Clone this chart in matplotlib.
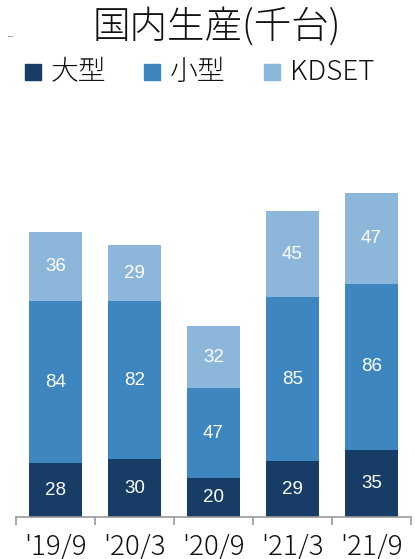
import numpy as np
import matplotlib.pyplot as plt
from matplotlib.patches import Rectangle

plt.rcParams['font.family'] = ['Noto Sans CJK JP', 'DejaVu Sans']

# data
periods = ["'19/9", "'20/3", "'20/9", "'21/3", "'21/9"]
large = [28, 30, 20, 29, 35]
small = [84, 82, 47, 85, 86]
kdset = [36, 29, 32, 45, 47]
series_names = ['大型', '小型', 'KDSET']
colors = ['#173d66', '#3e86bf', '#8cb7db']

fig = plt.figure(figsize=(4.15, 5.59), dpi=100)
ax = fig.add_axes([16 / 415, 42 / 559, 395 / 415, 417 / 559])

x = np.arange(len(periods))
bottom = np.zeros(len(periods))
for vals, col, name in zip([large, small, kdset], colors, series_names):
    vals = np.array(vals)
    ax.bar(x, vals, bottom=bottom, width=0.67, color=col, label=name)
    for xi, b, v in zip(x, bottom, vals):
        ax.text(xi, b + v / 2, str(v), ha='center', va='center', color='white',
                fontsize=13.5, family='Liberation Sans')
    bottom += vals

ax.set_xlim(-0.5, len(periods) - 0.5)
ax.set_ylim(0, 216.5)
ax.set_yticks([])
for s in ['left', 'right', 'top']:
    ax.spines[s].set_visible(False)
ax.spines['bottom'].set_color('#999999')
ax.spines['bottom'].set_linewidth(1.2)
ax.set_xticks(np.arange(len(periods) + 1) - 0.5)
ax.set_xticklabels([])
ax.tick_params(axis='x', which='major', length=6, width=1.2, color='#999999')
ax.set_xticks(x, minor=True)
ax.set_xticklabels(periods, minor=True, fontsize=20, color='#111111',
                   fontweight='light')
ax.tick_params(axis='x', which='minor', length=0, pad=11)

fig.text(0.522, 0.952, '国内生産(千台)', ha='center', va='center', fontsize=27,
         color='#111111', fontweight='light')

# small stray mark at upper left, as in the reference
fig.add_artist(plt.Line2D([8 / 415, 12 / 415], [1 - 36 / 559] * 2,
                          transform=fig.transFigure, color='#aaaaaa', lw=0.8))

# legend drawn by hand to mimic the layout
leg_x = [25 / 415, 144 / 415, 264 / 415]
for lx, col, name in zip(leg_x, colors, series_names):
    fig.add_artist(Rectangle((lx, 1 - 80 / 559), 16 / 415, 16 / 559,
                             transform=fig.transFigure, color=col))
    fig.text(lx + 26 / 415, 1 - 72 / 559, name, ha='left', va='center',
             fontsize=20, color='#111111', fontweight='light')

fig.savefig('out.png', dpi=100)
